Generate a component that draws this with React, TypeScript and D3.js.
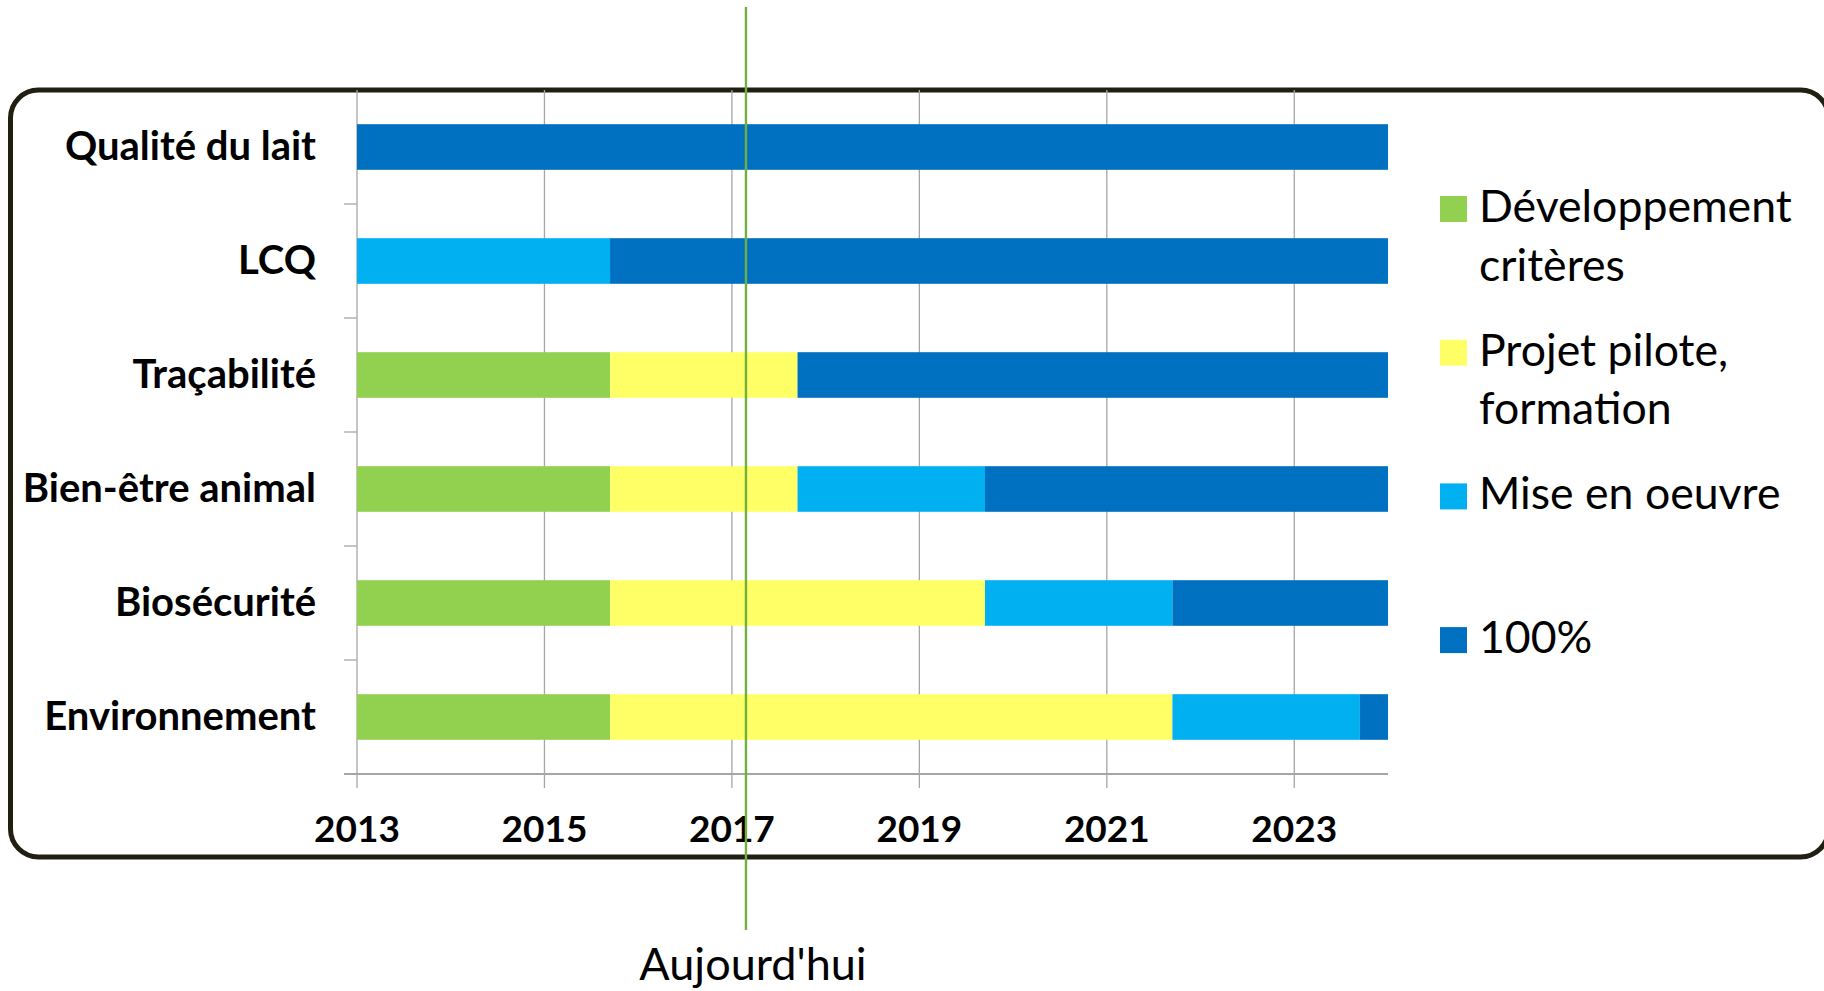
import React from "react";
import * as d3 from "d3";

// categories, top to bottom
const categories = ["Qualité du lait", "LCQ", "Traçabilité", "Bien-être animal", "Biosécurité", "Environnement"];
// durations in years, stacked from 2013
const developpement = [0, 0, 2.7, 2.7, 2.7, 2.7];
const projetPilote = [0, 0, 2, 2, 4, 6];
const miseEnOeuvre = [0, 2.7, 0, 2, 2, 2];
const complet = [11, 8.3, 6.3, 4.3, 2.3, 0.3];
const seriesKeys = ["dev", "projet", "mise", "full"];
const seriesLabels = [["Développement", "critères"], ["Projet pilote,", "formation"], ["Mise en oeuvre"], ["100%"]];
const seriesColors = ["#92d050", "#ffff66", "#00b0f0", "#0070c0"];
const yearTicks = [2013, 2015, 2017, 2019, 2021, 2023];
const startYear = 2013;
const endYear = 2024;
const today = 2017.15;
const todayLabel = "Aujourd'hui";

const FONT = "Lato, 'Open Sans', sans-serif";

export default function App() {
  const width = 1824, height = 991;
  const left = 357, right = 1388, top = 90, bottom = 774;

  const rows = categories.map((c, i) => ({
    cat: c, dev: developpement[i], projet: projetPilote[i], mise: miseEnOeuvre[i], full: complet[i],
  }));
  const stacked = d3.stack<any>().keys(seriesKeys)(rows);

  const x = d3.scaleLinear().domain([startYear, endYear]).range([left, right]);
  const y = d3.scaleBand().domain(categories).range([top, bottom]).paddingInner(0.6).paddingOuter(0.3);
  const step = y.step();
  const bandEdges = d3.range(categories.length + 1).map(i => top + i * step);

  const grey = "#a6a6a6";

  return (
    <svg width={width} height={height} style={{ position: "absolute", left: 0, top: 0, background: "#fff" }}>
      {/* frame */}
      <rect x={10.5} y={90} width={1818} height={767} rx={28} ry={28} fill="none" stroke="#211e12" strokeWidth={5} />

      {/* vertical grid */}
      {yearTicks.map(t => (
        <line key={"g" + t} x1={x(t)} x2={x(t)} y1={top} y2={bottom + 14} stroke={grey} strokeWidth={1.3} />
      ))}
      {/* y axis ticks */}
      {bandEdges.slice(1).map((e, i) => (
        <line key={"yt" + i} x1={left - 13} x2={left} y1={e} y2={e} stroke={grey} strokeWidth={1.3} />
      ))}
      <line x1={left - 13} x2={right} y1={bottom} y2={bottom} stroke={grey} strokeWidth={2} />

      {/* bars */}
      {stacked.map((s, si) => (
        <g key={s.key} fill={seriesColors[si]}>
          {s.map((d, i) => d[1] - d[0] > 0 ? (
            <rect key={i} x={x(startYear + d[0])} width={x(startYear + d[1]) - x(startYear + d[0])}
              y={y(categories[i])} height={y.bandwidth()} />
          ) : null)}
        </g>
      ))}

      {/* category labels */}
      {categories.map(c => (
        <text key={c} x={316} y={(y(c) as number) + y.bandwidth() / 2 + 13} textAnchor="end"
          fontFamily={FONT} fontWeight="bold" fontSize={40} fill="#000">{c}</text>
      ))}

      {/* x tick labels */}
      {yearTicks.map(t => (
        <text key={"xl" + t} x={x(t)} y={842} textAnchor="middle" fontFamily={FONT}
          fontWeight="bold" fontSize={37} fill="#000">{t}</text>
      ))}

      {/* legend */}
      {seriesLabels.map((lines, i) => {
        const base = 222 + i * 143.7;
        return (
          <g key={"lg" + i}>
            <rect x={1440} y={base - 26} width={27} height={26} fill={seriesColors[i]} />
            {lines.map((l, j) => (
              <text key={j} x={1479} y={base + j * 58.7} fontFamily={FONT} fontSize={44.6} fill="#000">{l}</text>
            ))}
          </g>
        );
      })}

      {/* today marker */}
      <line x1={x(today)} x2={x(today)} y1={7} y2={930} stroke="#70b040" strokeWidth={2.4} />
      <text x={753} y={980} textAnchor="middle" fontFamily={FONT} fontSize={45} fill="#000">{todayLabel}</text>
    </svg>
  );
}
